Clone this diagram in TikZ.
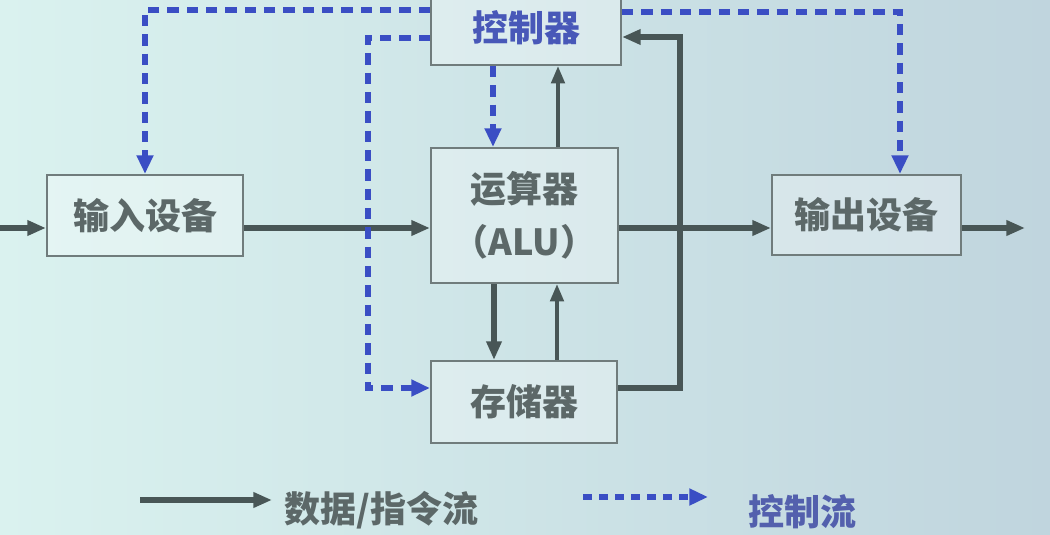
\documentclass[tikz,border=0pt]{standalone}
\usepackage{fontspec}
\newfontfamily\cjk{Noto Sans CJK SC}
\usetikzlibrary{arrows.meta}
\definecolor{bgL}{RGB}{218,242,239}
\definecolor{bgR}{RGB}{192,213,222}
\definecolor{boxline}{RGB}{112,124,124}
\definecolor{dark}{RGB}{72,86,86}
\definecolor{txt}{RGB}{92,104,104}
\definecolor{ctl}{RGB}{58,78,196}
\definecolor{ctltxt}{RGB}{72,88,184}
\begin{document}
\begin{tikzpicture}[x=0.75pt,y=-0.75pt,
  unit/.style={draw=boxline, line width=1.6pt, fill=white, fill opacity=0.3, text opacity=1,
    text=txt, font=\cjk\bfseries\fontsize{27}{40}\selectfont, inner sep=0pt, align=center},
  data/.style={draw=dark, line width=3.8pt, -{Triangle[length=14pt,width=11pt]}},
  datathin/.style={draw=dark, line width=2.8pt, -{Triangle[length=13pt,width=10pt]}},
  ctrlflow/.style={draw=ctl, line width=4.4pt, dash pattern=on 8.5pt off 6pt, -{Triangle[length=14pt,width=12pt]}},
  legtext/.style={font=\cjk\bfseries\fontsize{27}{30}\selectfont, inner sep=0pt}
]
\useasboundingbox (0,0) rectangle (1050,535);
\shade[left color=bgL, right color=bgR] (0,0) rectangle (1050,535);

% boxes
\node[unit, text=ctltxt, minimum width=142.5pt, minimum height=56.25pt] (ctrl) at (526,27.5) {控制器};
\node[unit, minimum width=140.25pt, minimum height=101.25pt] (alu) at (524.5,215.5) {运算器\\（ALU）};
\node[unit, minimum width=139.5pt, minimum height=61.5pt] (mem) at (524,402) {存储器};
\node[unit, minimum width=147pt, minimum height=60.75pt] (in) at (145,215.5) {输入设备};
\node[unit, minimum width=141.75pt, minimum height=60pt] (out) at (866.5,215) {输出设备};

% helper coordinates
\coordinate (yd) at (0,228);
\coordinate (src) at (0,228);
\coordinate (sink) at (1025,228);
\coordinate (xau) at (558,0);
\coordinate (xdn) at (494,0);
\coordinate (xup) at (557,0);
\coordinate (ym) at (0,388);
\coordinate (yc) at (0,37);
\coordinate (bus) at (680,0);

% data flow
\draw[data] (src) -- (in.west |- yd);
\draw[data] (in.east |- yd) -- (alu.west |- yd);
\draw[data] (alu.east |- yd) -- (out.west |- yd);
\draw[data] (out.east |- yd) -- (sink);
\draw[datathin] (alu.north -| xau) -- (ctrl.south -| xau);
\draw[data, line width=4.6pt] (alu.south -| xdn) -- (mem.north -| xdn);
\draw[datathin] (mem.north -| xup) -- (alu.south -| xup);
\draw[data] (mem.east |- ym) -- (bus |- ym) -- (bus |- yc) -- (ctrl.east |- yc);

% control flow
\coordinate (c1) at (145,10);
\coordinate (c2) at (368,38);
\coordinate (c3) at (368,388);
\coordinate (c4) at (900,12);
\coordinate (xc) at (493,0);
\draw[ctrlflow] (ctrl.west |- c1) -- (c1) -- (in.north -| c1);
\draw[ctrlflow] (ctrl.west |- c2) -- (c2) -- (c3) -- (mem.west |- c3);
\draw[ctrlflow] (ctrl.south -| xc) -- (alu.north -| xc);
\draw[ctrlflow] (ctrl.east |- c4) -- (c4) -- (out.north -| c4);

% legend
\coordinate (l1a) at (140,500);
\coordinate (l1b) at (272,500);
\coordinate (l2a) at (583,497);
\coordinate (l2b) at (708,497);
\draw[data, line width=5pt] (l1a) -- (l1b);
\node[legtext, text=txt, anchor=west] (t1) at (284,510) {数据/指令流};
\draw[ctrlflow, dash pattern=on 7pt off 5pt] (l2a) -- (l2b);
\node[legtext, text=ctltxt!80!gray, anchor=west] (t2) at (748,512) {控制流};
\end{tikzpicture}
\end{document}
